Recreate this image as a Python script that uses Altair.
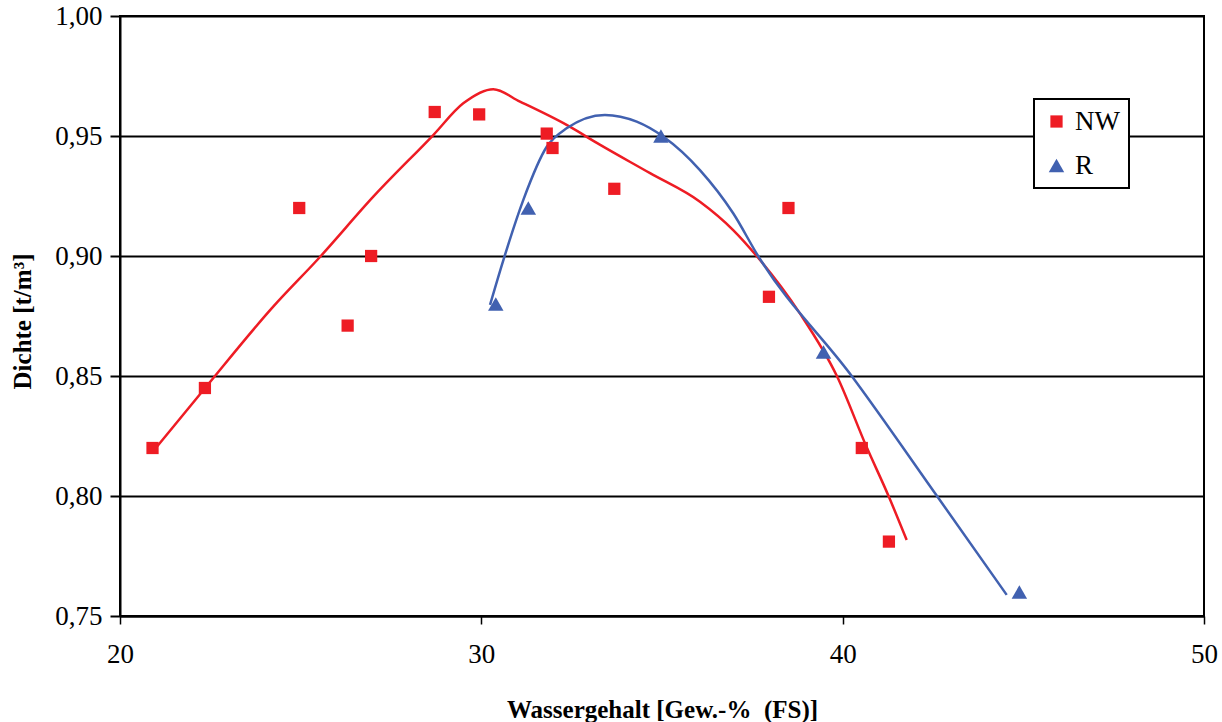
import altair as alt
import pandas as pd

# ---- data ----
nw_x = [20.90, 22.35, 24.96, 26.30, 26.95, 28.71, 29.94, 31.81, 31.97, 33.68, 37.96, 38.50, 40.53, 41.28]
nw_y = [0.820, 0.845, 0.920, 0.871, 0.900, 0.960, 0.959, 0.951, 0.945, 0.928, 0.883, 0.920, 0.820, 0.781]

r_x = [30.40, 31.30, 34.97, 39.47, 44.89]
r_y = [0.880, 0.920, 0.950, 0.860, 0.760]

# fitted curves
nw_fit_x = [21.02, 22.35, 24.24, 25.54, 27.01, 28.67, 29.50, 30.33, 31.07, 32.36, 33.29,
            34.67, 36.05, 36.97, 37.62, 38.82, 39.84, 40.66, 41.27, 41.77]
nw_fit_y = [0.8205, 0.8449, 0.8789, 0.8997, 0.9247, 0.9504, 0.9636, 0.9695, 0.9643, 0.9546, 0.9463,
            0.9345, 0.9226, 0.9108, 0.9000, 0.8760, 0.8500, 0.8205, 0.8000, 0.7817]

r_fit_x = [30.24, 30.61, 31.16, 31.81, 32.36, 33.42, 34.30, 35.04, 36.05, 36.97, 37.66,
           40.25, 42.61, 44.54]
r_fit_y = [0.8796, 0.8983, 0.9233, 0.9455, 0.9532, 0.9588, 0.9560, 0.9497, 0.9358, 0.9178, 0.9000,
           0.8500, 0.8000, 0.7588]

series = ["NW", "R"]
x_ticks = [20, 30, 40, 50]
y_ticks = [0.75, 0.80, 0.85, 0.90, 0.95, 1.00]

RED = "#EE1C24"
BLUE = "#4161B0"
FONT = "Liberation Serif"

pts = pd.DataFrame({
    "x": nw_x + r_x,
    "y": nw_y + r_y,
    "s": ["NW"] * len(nw_x) + ["R"] * len(r_x),
})
nw_fit = pd.DataFrame({"x": nw_fit_x, "y": nw_fit_y})
r_fit = pd.DataFrame({"x": r_fit_x, "y": r_fit_y})

xs = alt.Scale(domain=[20, 50], nice=False, zero=False)
ys = alt.Scale(domain=[0.75, 1.0], nice=False, zero=False)

x_axis = alt.Axis(
    values=x_ticks, title="Wassergehalt [Gew.-% \u00a0(FS)]", grid=False,
    labelFont=FONT, labelFontSize=27, labelColor="black", labelPadding=17, labelFlush=False,
    tickSize=8, tickColor="black", tickWidth=1.5,
    domainColor="black", domainWidth=2,
    titleFont=FONT, titleFontSize=25, titleFontWeight="bold", titleColor="black",
    titleX=542, titleY=93, titleBaseline="middle", titleAlign="center",
)
y_axis = alt.Axis(
    values=y_ticks, title="Dichte [t/m³]", grid=True, gridColor="black", gridWidth=2, gridOpacity=1,
    labelExpr="replace(format(datum.value, '.2f'), '.', ',')",
    labelFont=FONT, labelFontSize=27, labelColor="black", labelPadding=8, labelFlush=False,
    tickSize=10, tickColor="black", tickWidth=2,
    domainColor="black", domainWidth=2,
    titleFont=FONT, titleFontSize=25, titleFontWeight="bold", titleColor="black",
    titleAngle=-90, titleX=-98, titleY=305, titleBaseline="middle", titleAlign="center",
)

line_nw = alt.Chart(nw_fit).mark_line(color=RED, strokeWidth=2.5, interpolate="monotone").encode(
    x=alt.X("x:Q", scale=xs, axis=x_axis),
    y=alt.Y("y:Q", scale=ys, axis=y_axis),
)
line_r = alt.Chart(r_fit).mark_line(color=BLUE, strokeWidth=2.5, interpolate="monotone").encode(
    x=alt.X("x:Q", scale=xs),
    y=alt.Y("y:Q", scale=ys),
)

legend = alt.Legend(
    title=None, orient="none", legendX=914, legendY=83,
    fillColor="white", strokeColor="black", padding=9,
    labelFont=FONT, labelFontSize=27, labelColor="black", labelOffset=5,
    rowPadding=16, symbolSize=170, symbolStrokeWidth=0,
)
points = alt.Chart(pts).mark_point(filled=True, opacity=1, strokeWidth=0).encode(
    x=alt.X("x:Q", scale=xs),
    y=alt.Y("y:Q", scale=ys),
    color=alt.Color("s:N", scale=alt.Scale(domain=series, range=[RED, BLUE]), legend=legend),
    shape=alt.Shape("s:N", scale=alt.Scale(domain=series, range=["square", "triangle-up"]), legend=legend),
    size=alt.Size("s:N", scale=alt.Scale(domain=series, range=[150, 240]), legend=None),
)

chart = alt.layer(line_nw, line_r, points).properties(
    width=1084, height=600,
    autosize=alt.AutoSizeParams(type="none"),
    padding={"left": 120, "top": 16, "right": 18, "bottom": 106},
    background="white",
).configure_view(
    stroke="black", strokeWidth=2
).configure_legend(
    strokeWidth=2
)

chart.save("out.html", embed_options={"renderer": "svg", "actions": False})
